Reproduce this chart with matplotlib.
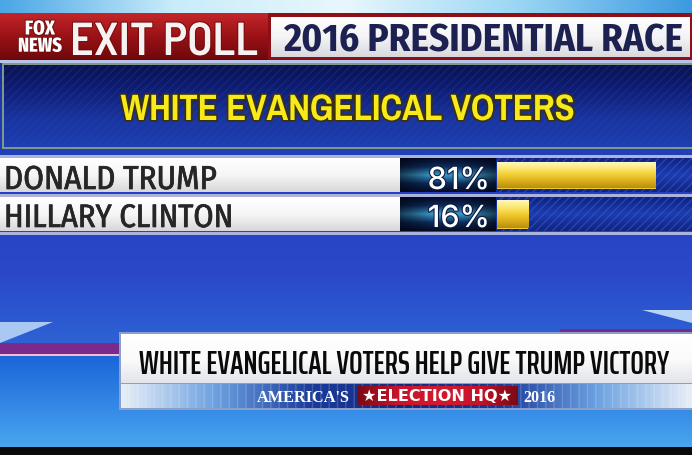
import numpy as np
import matplotlib
matplotlib.use("Agg")
import matplotlib.pyplot as plt
from matplotlib.colors import LinearSegmentedColormap
from matplotlib.patches import Rectangle, Polygon
from matplotlib import font_manager as fm
from matplotlib.textpath import TextPath
import matplotlib.patheffects as pe

# ---------------- data ----------------
logo_text = "FOX\nNEWS"
header_left = "EXIT POLL"
header_right = "2016 PRESIDENTIAL RACE"
group_title = "WHITE EVANGELICAL VOTERS"
candidates = ["DONALD TRUMP", "HILLARY CLINTON"]
shares = [81, 16]
banner_text = "WHITE EVANGELICAL VOTERS HELP GIVE TRUMP VICTORY"
brand_left = "AMERICA'S"
brand_mid = "\u2605ELECTION HQ\u2605"
brand_right = "2016"

W, H = 692, 455
fig = plt.figure(figsize=(W / 100, H / 100), dpi=100)
ax = fig.add_axes([0, 0, 1, 1])
ax.set_xlim(0, W)
ax.set_ylim(H, 0)
ax.axis("off")
renderer = fig.canvas.get_renderer()

LATIN = ("DejaVu Sans", "Liberation Sans", "Liberation Sans Narrow", "Noto Sans",
         "Roboto", "Open Sans", "Lato", "Inter")


def collect(bold):
    out = []
    seen = set()
    for f in fm.fontManager.ttflist:
        if not (f.name in LATIN or "Narrow" in f.name or "Condensed" in f.name):
            continue
        if "Mono" in f.name or f.style != "normal" or f.fname in seen:
            continue
        w = f.weight if isinstance(f.weight, int) else {"bold": 700, "normal": 400}.get(f.weight, 400)
        if bold and not (600 <= w <= 800):
            continue
        if not bold and not (400 <= w < 600):
            continue
        fp = fm.FontProperties(fname=f.fname)
        try:
            cap = TextPath((0, 0), "H", size=10, prop=fp).get_extents().height
        except Exception:
            continue
        seen.add(f.fname)
        out.append((fp, cap))
    if not out:
        fp = fm.FontProperties(family="DejaVu Sans", weight="bold" if bold else "normal")
        out.append((fp, TextPath((0, 0), "H", size=10, prop=fp).get_extents().height))
    return out


FONTS = {True: collect(True), False: collect(False)}


def pick(s, bold, width, cap):
    target = width / cap
    best = None
    for fp, fcap in FONTS[bold]:
        wid = TextPath((0, 0), s, size=10, prop=fp).get_extents().width
        r = wid / fcap
        err = abs(np.log(r / target))
        if best is None or err < best[0]:
            best = (err, fp)
    return best[1]


def grad(x0, x1, y0, y1, colors, vertical=True, z=1, alpha=1.0):
    cmap = LinearSegmentedColormap.from_list("g", colors)
    v = np.linspace(0, 1, 256)
    arr = v[:, None] if vertical else v[None, :]
    return ax.imshow(arr, cmap=cmap, extent=(x0, x1, y1, y0), origin="upper",
                     aspect="auto", zorder=z, alpha=alpha, interpolation="bilinear")


def txt(x, y, s, bold, width, cap, fp=None, va="baseline", **kw):
    if fp is None:
        fp = pick(s.split("\n")[-1], bold, width, cap)
    t = ax.text(x, y, s, fontproperties=fp, va=va, **kw)
    t.set_fontsize(20)
    bb = t.get_window_extent(renderer)
    t.set_fontsize(20 * width / bb.width)
    return t


# ---------------- background ----------------
grad(0, W, 0, H, ["#0c1f7a", "#1c36b0", "#2440c0", "#2a48c8", "#2f6ad8", "#3b8ee8"], z=0)
grad(0, W, 0, 14, ["#4aa6e6", "#c9ecfa", "#e8f7fd", "#9ad6f4", "#3d9ae0"], vertical=False, z=1)

# ---------------- header ----------------
grad(0, 268, 13, 60, ["#c4262a", "#9a1216", "#6e080b"], z=2)
ax.add_patch(Rectangle((0, 60), W, 3, color="#b7c3e8", zorder=3, lw=0))
ax.add_patch(Rectangle((268, 13), W - 268, 47, color="#8e1016", zorder=2, lw=0))
grad(271, 690, 17, 57, ["#ffffff", "#f4f4f6", "#d8d9de"], z=3)
txt(40, 37.5, logo_text, True, 44, 14, va="center", ha="center", ma="center",
    linespacing=0.85, color="white", zorder=5,
    path_effects=[pe.withStroke(linewidth=1.2, foreground="#6a0a0c")])
txt(70, 55, header_left, True, 188, 33, color="#f6f2f2", ha="left", zorder=5,
    path_effects=[pe.withStroke(linewidth=1.5, foreground="#7a0a0c")])
txt(283, 52, header_right, True, 400, 27, color="#1c2152", ha="left", zorder=5)

# ---------------- title box ----------------
ax.add_patch(Rectangle((2, 63), W - 2, 86, color="#7f9888", zorder=2, lw=0))
grad(4, W, 65, 147, ["#0a1250", "#101f78", "#1a35a0", "#1d3fb0"], z=3)
ax.add_patch(Rectangle((4, 65), W - 4, 82, facecolor="none", edgecolor="#2a4ac0",
                       hatch="////", lw=0, alpha=0.25, zorder=4))
txt(348, 120, group_title, True, 453, 25, color="#f7ea1a", ha="center", zorder=6,
    path_effects=[pe.withStroke(linewidth=2.5, foreground="#3a3010")])

# ---------------- rows ----------------
ax.add_patch(Rectangle((0, 149), W, 7, color="#2140b8", zorder=2, lw=0))
row_tops = [157, 196]
row_h = 36
baselines = [189, 227]
label_w = [213, 230]
fp_rows = pick(candidates[1], False, 230, 23)
fp_pct = pick("81%", False, 62, 24)
for yy in [155, 194, 232]:
    ax.add_patch(Rectangle((0, yy), W, 2.5, color="#a9b3dc", zorder=3, lw=0))
for top, name, lw_, yb in zip(row_tops, candidates, label_w, baselines):
    grad(0, 400, top + 1, top + row_h - 1, ["#ffffff", "#f6f6f6", "#d7d7da"], z=3)
    grad(400, W, top + 1, top + row_h - 1, ["#0f2180", "#1c3cb0", "#10237e"], z=3)
    ax.add_patch(Rectangle((497, top + 1), W - 497, row_h - 2, facecolor="none",
                           edgecolor="#3c5fd0", hatch="////", lw=0, alpha=0.5, zorder=4))
    grad(400, 496, top + 1, top + row_h - 1,
         ["#050a22", "#0c2a5a", "#3a9ac8", "#0c2a5a", "#050a22"], z=4)
    grad(400, 496, top + 1, top + row_h - 1,
         ["#02040f", "#02040f00", "#02040f00", "#02040f"], vertical=False, z=4, alpha=0.6)
    txt(4, yb, name, False, lw_, 23, fp=fp_rows, color="#262626", ha="left", zorder=6,
        path_effects=[pe.withStroke(linewidth=0.5, foreground="#262626")])

# bars drawn on their own axes (x = percent)
bax = fig.add_axes([497 / W, 0, 196 / W, 1])
bax.axis("off")
bax.patch.set_alpha(0)
centers = [top + row_h / 2 for top in row_tops]
bars = bax.barh(centers, shares, height=[27, 29], left=0, color="#f0cc30", zorder=5)
cmap_bar = LinearSegmentedColormap.from_list(
    "bar", ["#fffbc8", "#fbe978", "#f2cf34", "#dcae1c", "#b88c10"])
for b in bars:
    x0, y0, w, h = b.get_x(), b.get_y(), b.get_width(), b.get_height()
    im = bax.imshow(np.linspace(0, 1, 64)[:, None], cmap=cmap_bar,
                    extent=(x0, x0 + w, y0 + h, y0), origin="upper",
                    aspect="auto", zorder=6)
    im.set_clip_path(b)
bax.set_xlim(0, 100)
bax.set_ylim(H, 0)

for yb, v in zip(baselines, shares):
    txt(490, yb, f"{v}%", False, 62, 24, fp=fp_pct, color="white", ha="right", zorder=7,
        path_effects=[pe.withStroke(linewidth=1.5, foreground="#0a1a40")])

# ---------------- decorative lower area ----------------
ax.add_patch(Polygon([[0, 322], [53, 322], [0, 343]], closed=True, color="#a9c8f2", zorder=2, lw=0))
ax.add_patch(Polygon([[642, 310], [692, 310], [692, 323]], closed=True, color="#b6d4f6", zorder=2, lw=0))
ax.add_patch(Rectangle((0, 343), 125, 11, color="#7a2a8a", zorder=2, lw=0))
ax.add_patch(Rectangle((0, 354), 125, 2, color="#f0c0d0", zorder=2, lw=0))
ax.add_patch(Rectangle((560, 329), W - 560, 6, color="#7a2a8a", zorder=2, lw=0))
grad(0, W, 356, 447, ["#1a66d8", "#2a7ae0", "#3a90e8", "#4aa6ee"], z=1)

# ---------------- lower third banner ----------------
ax.add_patch(Rectangle((119, 332), W - 119, 78, color="#8aa0c8", zorder=3, lw=0))
grad(121, W, 334, 383, ["#ffffff", "#fbfbfb", "#e2e4ea"], z=4)
txt(404, 374, banner_text, True, 532, 29, color="#0a0a0a", ha="center", zorder=6)
grad(121, W, 384, 408, ["#e8eef8", "#6aa0e0", "#1a3a9a", "#142a80", "#1a3a9a", "#6aa0e0", "#e8eef8"],
     vertical=False, z=4)
ax.add_patch(Rectangle((121, 384), W - 121, 24, facecolor="none", edgecolor="#ffffff",
                       hatch="||", lw=0, alpha=0.18, zorder=5))
grad(357, 518, 386, 405, ["#7a0a14", "#c8142a", "#d01a30", "#c8142a", "#7a0a14"],
     vertical=False, z=5)
SERIF = fm.FontProperties(family=["Liberation Serif", "DejaVu Serif"], weight="bold")
txt(257, 402, brand_left, True, 93, 12, fp=SERIF, color="white", ha="left", zorder=6)
txt(437.5, 401, brand_mid, True, 150, 10,
    fp=fm.FontProperties(family="DejaVu Sans", weight="bold"), color="white", ha="center", zorder=6)
txt(523, 402, brand_right, True, 32, 12, fp=SERIF, color="white", ha="left", zorder=6)

ax.add_patch(Rectangle((0, 447), W, 8, color="#0a0a0c", zorder=7, lw=0))

fig.savefig("out.png", dpi=100)
